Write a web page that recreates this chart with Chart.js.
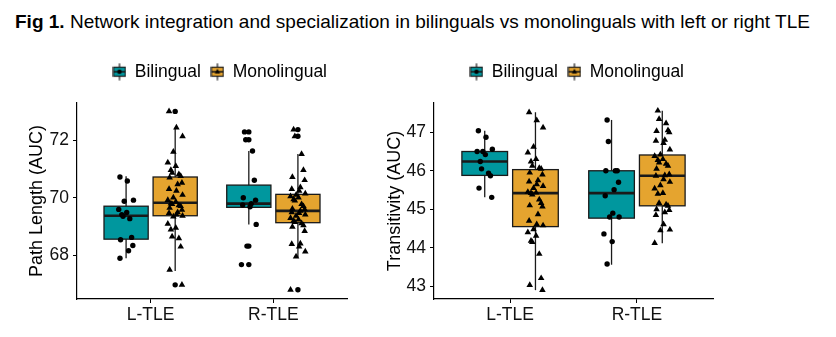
<!DOCTYPE html>
<html>
<head>
<meta charset="utf-8">
<script src="https://cdn.jsdelivr.net/npm/chart.js@4.4.1/dist/chart.umd.min.js"></script>
<style>
  body { margin: 0; background: #fff; width: 836px; height: 337px; position: relative; overflow: hidden;
         font-family: "Liberation Sans", Arial, sans-serif; }
  #title { position: absolute; left: 15px; top: 11px; font-size: 19px; color: #000; white-space: nowrap; }
  .panel { position: absolute; top: 40px; }
</style>
</head>
<body>
<div id="title"><b>Fig 1.</b> Network integration and specialization in bilinguals vs monolinguals with left or right TLE</div>
<canvas id="pathChart" class="panel" width="370" height="297" style="left:0"></canvas>
<canvas id="transChart" class="panel" width="466" height="297" style="left:370px"></canvas>
<script>
const categories = ['L-TLE', 'R-TLE'];
const groupNames = ['Bilingual', 'Monolingual'];

// box stats per category: [lower whisker, Q1, median, Q3, upper whisker]
const pathBilingualBox = [[67.91, 68.57, 69.38, 69.71, 70.75], [69.08, 69.67, 69.80, 70.44, 71.62]];
const pathMonolingualBox = [[67.47, 69.38, 69.83, 70.72, 72.43], [67.94, 69.14, 69.55, 70.12, 71.52]];
const transBilingualBox = [[45.31, 45.88, 46.24, 46.50, 47.04], [43.56, 44.77, 45.42, 46.00, 47.32]];
const transMonolingualBox = [[42.90, 44.55, 45.42, 46.03, 47.52], [44.12, 45.09, 45.87, 46.41, 47.56]];

// subjects, Path Length (AUC)
const pathBilingualL = [70.72, 70.58, 69.92, 69.88, 69.60, 69.49, 69.42, 69.36, 69.28, 68.63, 68.55, 68.35, 68.17, 67.91];
const pathBilingualR = [72.28, 72.01, 71.62, 70.61, 70.00, 69.92, 69.80, 69.75, 69.69, 69.08, 68.33, 67.69];
const pathMonolingualL = [72.99, 72.43, 72.13, 71.59, 71.22, 71.10, 70.96, 70.86, 70.81, 70.75, 70.70, 70.52, 70.47,
  70.30, 70.24, 70.10, 70.01, 69.92, 69.86, 69.80, 69.78, 69.74, 69.71, 69.65, 69.58, 69.50, 69.47, 69.42, 69.38,
  69.35, 69.10, 68.96, 68.90, 68.66, 68.60, 68.31, 67.51, 66.99];
const pathMonolingualR = [72.36, 72.13, 71.51, 70.96, 70.72, 70.61, 70.36, 70.30, 70.24, 70.15, 70.10, 70.05, 70.01,
  69.95, 69.90, 69.78, 69.71, 69.62, 69.60, 69.55, 69.50, 69.47, 69.42, 69.38, 69.30, 69.25, 69.20, 69.16, 69.12,
  69.05, 69.00, 68.85, 68.42, 68.40, 68.31, 68.14, 67.97, 66.82];

// subjects, Transitivity (AUC)
const transBilingualL = [47.04, 46.87, 46.56, 46.50, 46.50, 46.42, 46.24, 46.05, 45.94, 45.87, 45.55, 45.31];
const transBilingualR = [47.32, 46.76, 46.00, 46.00, 46.00, 45.70, 45.51, 45.35, 44.90, 44.80, 44.80, 44.36, 44.16, 43.58];
const transMonolingualL = [47.52, 47.31, 47.12, 46.62, 46.47, 46.30, 46.24, 46.13, 46.07, 46.05, 45.95, 45.90, 45.75,
  45.72, 45.65, 45.60, 45.55, 45.45, 45.43, 45.42, 45.38, 45.25, 45.16, 45.10, 45.07, 44.87, 44.70, 44.61, 44.58,
  44.48, 44.40, 44.31, 44.18, 44.15, 43.84, 43.21, 43.03, 42.90];
const transMonolingualR = [47.56, 47.34, 47.23, 47.05, 47.03, 47.00, 46.80, 46.78, 46.72, 46.55, 46.42, 46.38, 46.30,
  46.28, 46.21, 46.18, 46.13, 46.05, 45.91, 45.88, 45.87, 45.78, 45.71, 45.62, 45.54, 45.42, 45.40, 45.16, 45.12,
  45.09, 45.00, 44.98, 44.92, 44.85, 44.61, 44.47, 44.45, 44.12];

const pathTicks = [68, 70, 72];
const transTicks = [43, 44, 45, 46, 47];

const colors = ['#00979E', '#E5A42F'];
const edge = '#1a1a1a';
const dodge = 0.2, boxW = 0.36;
const jitter = [-0.05, 0.03, -0.015, 0.055, -0.035, 0.01, 0.045, -0.06, 0.02, -0.025, 0.06, -0.045, 0.005];
const fontFamily = '"Liberation Sans", Arial, sans-serif';

function jittered(lists, side) {
    const pts = [];
    lists.forEach((vals, c) => vals.forEach((v, i) => {
        pts.push({ x: c + 1 + side * dodge + jitter[(i * 5 + c * 4) % jitter.length], y: v });
    }));
    return pts;
}

// points beyond the whiskers, drawn again at box centre like ggplot outliers
function outliers(lists, boxes, side) {
    const pts = [];
    lists.forEach((vals, c) => vals.forEach(v => {
        if (v < boxes[c][0] - 1e-6 || v > boxes[c][4] + 1e-6) pts.push({ x: c + 1 + side * dodge, y: v });
    }));
    return pts;
}

function boxPlugin(sets) {
    return {
        id: 'boxes',
        beforeDatasetsDraw(chart) {
            const { ctx, scales: { x, y } } = chart;
            ctx.save();
            sets.forEach(set => set.stats.forEach((s, c) => {
                const cx = c + 1 + set.side * dodge;
                const px = x.getPixelForValue(cx);
                const l = x.getPixelForValue(cx - boxW / 2), r = x.getPixelForValue(cx + boxW / 2);
                ctx.strokeStyle = edge;
                ctx.lineWidth = 1.3;
                ctx.beginPath();
                ctx.moveTo(px, y.getPixelForValue(s[0]));
                ctx.lineTo(px, y.getPixelForValue(s[4]));
                ctx.stroke();
                const top = y.getPixelForValue(s[3]), bot = y.getPixelForValue(s[1]);
                ctx.fillStyle = set.color;
                ctx.fillRect(l, top, r - l, bot - top);
                ctx.strokeRect(l, top, r - l, bot - top);
                ctx.lineWidth = 2.6;
                ctx.beginPath();
                ctx.moveTo(l, y.getPixelForValue(s[2]));
                ctx.lineTo(r, y.getPixelForValue(s[2]));
                ctx.stroke();
            }));
            ctx.restore();
        }
    };
}

// legend key: small boxplot with point
function keyIcon(color, shape) {
    const c = document.createElement('canvas');
    c.width = 14; c.height = 18;
    const g = c.getContext('2d');
    g.strokeStyle = edge; g.lineWidth = 1.2;
    g.beginPath(); g.moveTo(7, 0.5); g.lineTo(7, 17.5); g.stroke();
    g.fillStyle = color;
    g.fillRect(1, 4.5, 12, 9); g.strokeRect(1, 4.5, 12, 9);
    g.lineWidth = 1.6;
    g.beginPath(); g.moveTo(1, 9); g.lineTo(13, 9); g.stroke();
    g.fillStyle = '#000';
    g.beginPath();
    if (shape === 'circle') g.arc(7, 9, 2.2, 0, Math.PI * 2);
    else { g.moveTo(7, 6); g.lineTo(9.7, 10.8); g.lineTo(4.3, 10.8); g.closePath(); }
    g.fill();
    return c;
}
const icons = [keyIcon(colors[0], 'circle'), keyIcon(colors[1], 'triangle')];

function legendFix(height, center) {
    return {
        id: 'legendFix',
        beforeInit(chart) {
            const lg = chart.legend;
            const fit = lg.fit.bind(lg);
            lg.fit = function () { fit(); this.height = height; };
        },
        afterLayout(chart) {
            const lg = chart.legend;
            const d = center - (lg.left + lg.right) / 2;
            lg.left += d; lg.right += d;
        }
    };
}

function makePanel(id, p) {
    const tickFont = { family: fontFamily, size: 17.5 };
    new Chart(document.getElementById(id), {
        type: 'scatter',
        data: {
            datasets: [
                { label: groupNames[0], data: jittered(p.bil, -1), pointStyle: 'circle', pointRadius: 2.7,
                  backgroundColor: '#000', borderWidth: 0 },
                { label: groupNames[1], data: jittered(p.mono, 1), pointStyle: 'triangle', pointRadius: 3.8,
                  backgroundColor: '#000', borderWidth: 0 },
                { label: 'outliers', data: outliers(p.bil, p.bilBox, -1).concat(outliers(p.mono, p.monoBox, 1)),
                  pointStyle: 'circle', pointRadius: 2.7, backgroundColor: '#000', borderWidth: 0 }
            ]
        },
        options: {
            responsive: false,
            animation: false,
            layout: { padding: { top: 13, right: p.padRight, left: 0, bottom: 0 } },
            plugins: {
                tooltip: { enabled: false },
                legend: {
                    position: 'top',
                    onClick: null,
                    labels: {
                        usePointStyle: true,
                        boxWidth: 13,
                        padding: 10,
                        color: '#000',
                        font: { family: fontFamily, size: 17.5 },
                        generateLabels: () => groupNames.map((name, i) => ({
                            text: name, pointStyle: icons[i], fillStyle: colors[i], strokeStyle: edge,
                            lineWidth: 0, hidden: false, datasetIndex: i, fontColor: '#000'
                        }))
                    }
                }
            },
            scales: {
                x: {
                    type: 'linear', min: 0.4, max: 2.6,
                    afterBuildTicks: s => { s.ticks = [{ value: 1 }, { value: 2 }]; },
                    afterFit: s => { s.height = 38; },
                    ticks: { callback: v => categories[Math.round(v) - 1], font: tickFont, color: '#111',
                             padding: 2, maxRotation: 0, autoSkip: false },
                    grid: { display: true, drawOnChartArea: false, drawTicks: true, tickLength: 4, color: '#000' },
                    border: { display: true, color: '#000', width: 1.2 }
                },
                y: {
                    min: p.yMin, max: p.yMax,
                    afterBuildTicks: s => { s.ticks = p.yTicks.map(v => ({ value: v })); },
                    afterFit: s => { s.width = p.yWidth; },
                    title: { display: true, text: p.yTitle, color: '#000',
                             font: { family: fontFamily, size: 18 }, padding: { top: p.titlePad, bottom: 0 } },
                    ticks: { font: tickFont, color: '#111', padding: 4 },
                    grid: { display: true, drawOnChartArea: false, drawTicks: true, tickLength: 4, color: '#000' },
                    border: { display: true, color: '#000', width: 1.2 }
                }
            }
        },
        plugins: [
            boxPlugin([{ stats: p.bilBox, side: -1, color: colors[0] }, { stats: p.monoBox, side: 1, color: colors[1] }]),
            legendFix(50, p.legendCenter)
        ]
    });
}

makePanel('pathChart', {
    bil: [pathBilingualL, pathBilingualR], mono: [pathMonolingualL, pathMonolingualR],
    bilBox: pathBilingualBox, monoBox: pathMonolingualBox,
    yMin: 66.5, yMax: 73.28, yTicks: pathTicks, yTitle: 'Path Length (AUC)',
    yWidth: 77, titlePad: 26, padRight: 23, legendCenter: 220
});

makePanel('transChart', {
    bil: [transBilingualL, transBilingualR], mono: [transMonolingualL, transMonolingualR],
    bilBox: transBilingualBox, monoBox: transMonolingualBox,
    yMin: 42.67, yMax: 47.76, yTicks: transTicks, yTitle: 'Transitivity (AUC)',
    yWidth: 64, titlePad: 14, padRight: 123, legendCenter: 207
});
</script>
</body>
</html>
